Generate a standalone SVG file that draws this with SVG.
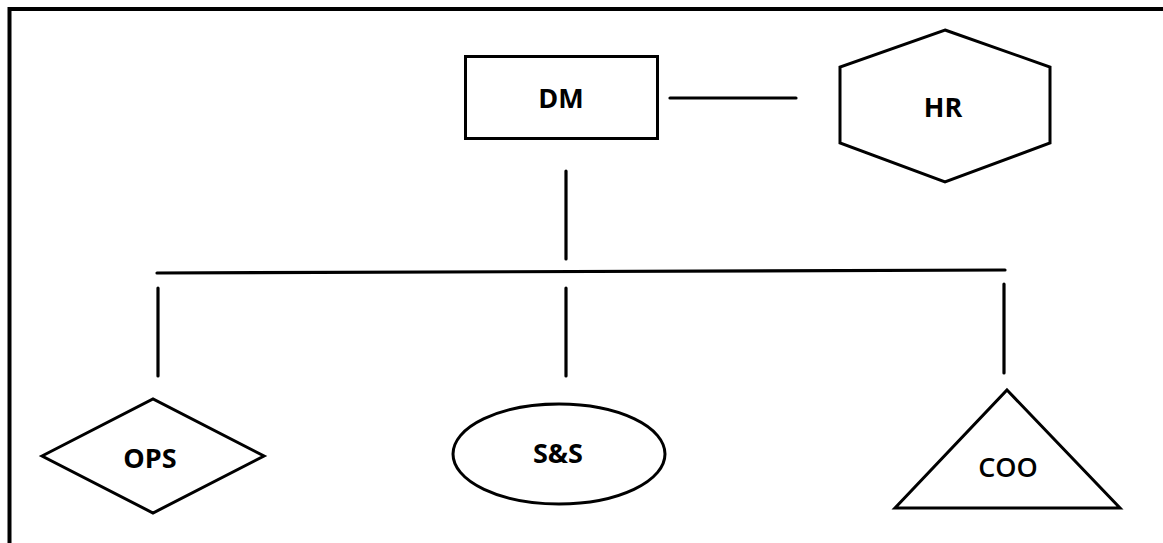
<svg xmlns="http://www.w3.org/2000/svg" width="1163" height="543" viewBox="0 0 1163 543">
  <style>
    .shape { fill: none; stroke: #000; stroke-width: 3; stroke-linejoin: miter; }
    .link { stroke: #000; stroke-width: 3.2; stroke-linecap: round; fill: none; }
    .label { font-family: "Open Sans", "Liberation Sans", sans-serif; font-size: 27px; font-weight: bold; fill: #000; text-anchor: middle; dominant-baseline: central; }
  </style>
  <rect width="1163" height="543" fill="#fff"/>
  <!-- frame -->
  <path d="M9.5 543 V9 H1163" fill="none" stroke="#000" stroke-width="4"/>

  <g id="connectors">
    <line class="link" x1="670" y1="98" x2="796" y2="98"/>
    <line class="link" x1="566" y1="171" x2="566" y2="259"/>
    <line class="link" x1="157" y1="273" x2="1005" y2="270"/>
    <line class="link" x1="158" y1="288" x2="158" y2="376"/>
    <line class="link" x1="566" y1="288" x2="566" y2="376"/>
    <line class="link" x1="1004" y1="284" x2="1004" y2="373"/>
  </g>

  <g id="node-dm">
    <rect class="shape" x="465.5" y="56.5" width="192" height="82"/>
    <text class="label" x="561" y="97">DM</text>
  </g>
  <g id="node-hr">
    <polygon class="shape" points="945,30 1050,67 1050,143 945,182 840,143 840,67"/>
    <text class="label" x="943" y="106">HR</text>
  </g>
  <g id="node-ops">
    <polygon class="shape" points="42,456 153,399 264,456 153,513"/>
    <text class="label" x="150" y="457">OPS</text>
  </g>
  <g id="node-ss">
    <ellipse class="shape" cx="559" cy="454" rx="106" ry="50"/>
    <text class="label" x="558" y="452">S&amp;S</text>
  </g>
  <g id="node-coo">
    <polygon class="shape" points="1007,390 1120,508 895,508"/>
    <text class="label" x="1008" y="466" style="font-weight:600">COO</text>
  </g>
</svg>
